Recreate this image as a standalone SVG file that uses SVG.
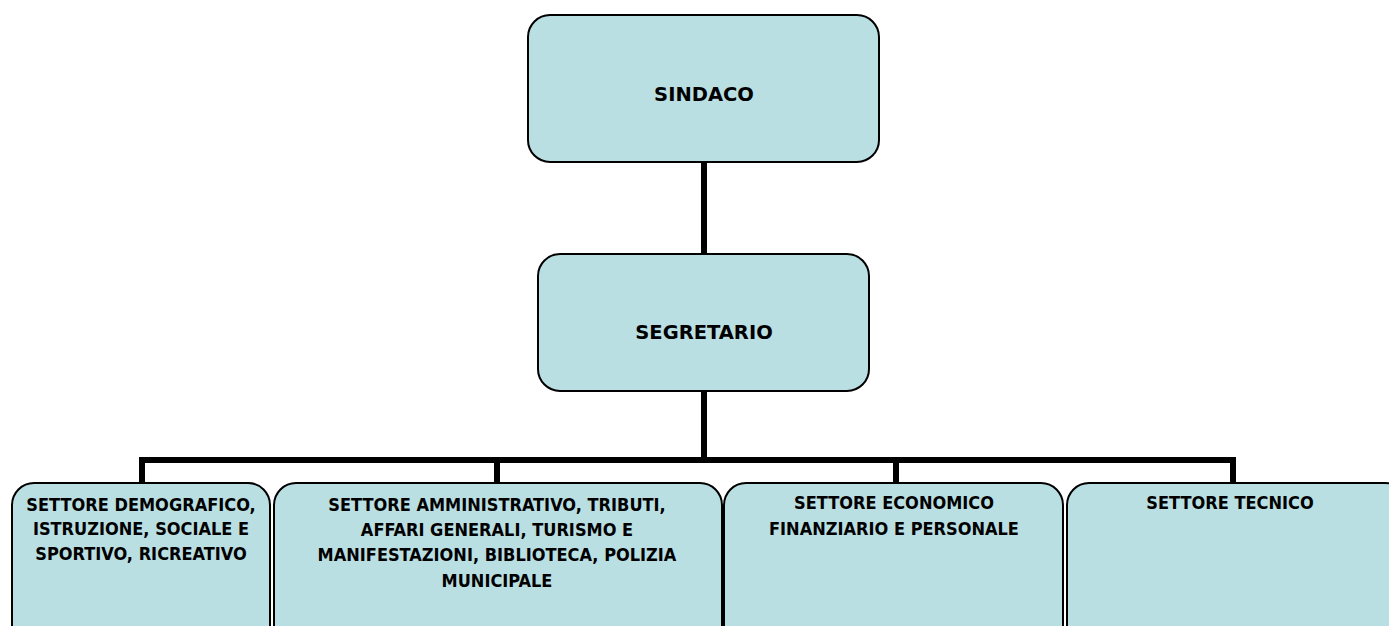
<svg xmlns="http://www.w3.org/2000/svg" width="1389" height="626" viewBox="0 0 1389 626">
<style>
.box{fill:#B9DFE2;stroke:#000;stroke-width:2}
.conn{fill:none;stroke:#000;stroke-width:6}
text{font-family:"DejaVu Sans Condensed","DejaVu Sans",sans-serif;font-weight:bold;font-size:18px;fill:#000;text-anchor:middle}
text.big{font-family:"DejaVu Sans",sans-serif;font-size:19.5px}
</style>
<rect width="1389" height="626" fill="#fff"/>
<g id="connectors">
<line class="conn" x1="704" y1="162" x2="704" y2="255"/>
<line class="conn" x1="704" y1="391" x2="704" y2="460"/>
<polyline class="conn" points="142,483 142,460 1233,460 1233,483"/>
<line class="conn" x1="497" y1="460" x2="497" y2="483"/>
<line class="conn" x1="896" y1="460" x2="896" y2="483"/>
</g>
<g id="sindaco">
<rect class="box" x="528" y="15" width="351" height="147" rx="22"/>
<text class="big" x="704" y="101">SINDACO</text>
</g>
<g id="segretario">
<rect class="box" x="538" y="254" width="331" height="137" rx="22"/>
<text class="big" x="704" y="339">SEGRETARIO</text>
</g>
<g id="settore-demografico">
<rect class="box" x="12" y="483" width="258" height="170" rx="22"/>
<text x="141" y="511">SETTORE DEMOGRAFICO,</text>
<text x="141" y="535">ISTRUZIONE, SOCIALE E</text>
<text x="141" y="560">SPORTIVO, RICREATIVO</text>
</g>
<g id="settore-amministrativo">
<rect class="box" x="274" y="483" width="448" height="170" rx="22"/>
<text x="497" y="511">SETTORE AMMINISTRATIVO, TRIBUTI,</text>
<text x="497" y="536">AFFARI GENERALI, TURISMO E</text>
<text x="497" y="561">MANIFESTAZIONI, BIBLIOTECA, POLIZIA</text>
<text x="497" y="587">MUNICIPALE</text>
</g>
<g id="settore-economico">
<rect class="box" x="724" y="483" width="339" height="170" rx="22"/>
<text x="894" y="509">SETTORE ECONOMICO</text>
<text x="894" y="535">FINANZIARIO E PERSONALE</text>
</g>
<g id="settore-tecnico">
<rect class="box" x="1067" y="483" width="340" height="170" rx="22"/>
<text x="1230" y="509">SETTORE TECNICO</text>
</g>
</svg>
